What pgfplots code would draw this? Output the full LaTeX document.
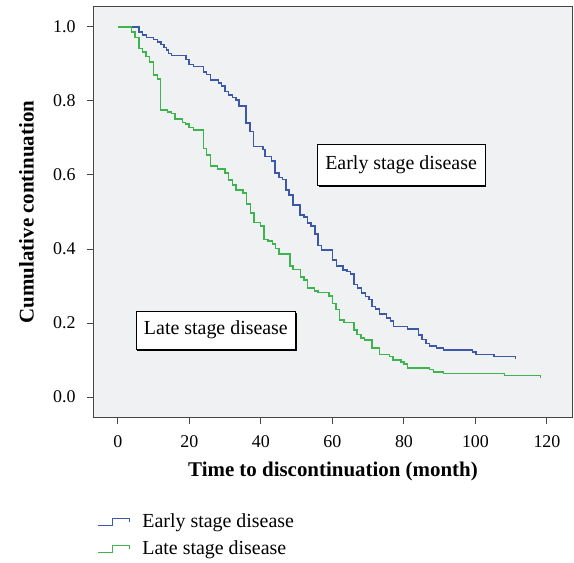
\documentclass[border=0pt]{standalone}
\usepackage{pgfplots}
\pgfplotsset{compat=1.18}
\usepackage{pgfplotstable}
\usepackage{fontspec}
\setmainfont{Liberation Serif}
\usetikzlibrary{shadows}
\definecolor{kmblue}{RGB}{60,88,168}
\definecolor{kmgreen}{RGB}{62,180,78}
\definecolor{plotbg}{RGB}{240,241,243}
\definecolor{axgray}{RGB}{70,70,70}

\pgfplotstableread{
x y
0 1.000
5.9 0.987
6.9 0.978
8.0 0.972
9.9 0.966
11.0 0.959
12.0 0.953
12.9 0.945
13.6 0.938
14.1 0.929
15.0 0.923
19.0 0.912
19.9 0.899
21.1 0.893
23.9 0.878
24.8 0.872
25.9 0.857
28.1 0.848
29.0 0.841
29.9 0.825
30.9 0.816
32.1 0.810
33.0 0.803
33.9 0.786
35.8 0.740
36.9 0.717
37.9 0.677
40.6 0.669
41.1 0.650
43.0 0.638
43.9 0.606
45.0 0.593
46.0 0.588
47.0 0.559
47.9 0.546
48.9 0.519
50.9 0.492
52.0 0.487
53.0 0.470
54.0 0.462
55.1 0.440
56.0 0.409
57.0 0.397
60.0 0.370
61.1 0.354
63.0 0.343
64.1 0.339
65.0 0.333
66.0 0.304
67.0 0.294
68.1 0.281
69.2 0.272
70.2 0.264
71.0 0.245
72.1 0.238
73.1 0.224
75.1 0.213
76.2 0.206
77.1 0.190
81.0 0.184
84.1 0.168
85.1 0.155
86.1 0.145
87.2 0.138
89.1 0.132
91.0 0.127
99.1 0.121
100.1 0.115
105.2 0.109
111.2 0.109
111.2 0.103
}\early

\pgfplotstableread{
x y
0 1.000
3.8 0.987
4.8 0.972
5.9 0.942
6.9 0.933
7.8 0.920
8.8 0.905
9.9 0.870
11.0 0.859
11.9 0.776
13.9 0.770
15.0 0.766
15.9 0.751
18.0 0.742
18.9 0.738
19.9 0.728
21.1 0.722
23.9 0.672
24.8 0.654
25.9 0.624
27.9 0.616
29.9 0.605
30.9 0.586
32.1 0.573
33.0 0.559
35.0 0.552
36.0 0.522
37.1 0.497
38.0 0.471
39.9 0.462
40.9 0.426
42.0 0.422
43.2 0.414
44.1 0.402
45.0 0.386
48.1 0.354
49.0 0.345
51.1 0.325
52.1 0.316
53.0 0.294
55.0 0.287
56.0 0.283
59.0 0.273
60.0 0.253
61.0 0.236
62.0 0.208
63.2 0.202
66.0 0.181
66.9 0.169
68.0 0.159
68.9 0.154
71.0 0.132
73.1 0.115
76.0 0.109
77.0 0.100
79.1 0.094
80.0 0.089
81.0 0.079
87.1 0.074
88.2 0.068
91.0 0.064
108.1 0.058
118.2 0.058
118.2 0.052
}\late

\begin{document}
\begin{tikzpicture}
\useasboundingbox (-94bp,-146bp) rectangle (480bp,417bp);
\begin{axis}[
  at={(0,0)}, anchor=south west,
  scale only axis, width=478bp, height=410bp,
  xmin=-6.7, xmax=127, ymin=-0.054, ymax=1.054,
  axis background/.style={fill=plotbg},
  axis line style={draw=axgray, line width=1bp},
  xtick={0,20,...,120}, ytick={0,0.2,...,1.0},
  xtick pos=bottom, ytick pos=left, tick align=outside,
  major tick length=7bp,
  tick style={draw=axgray, line width=1bp},
  /pgf/number format/assume math mode=true,
  yticklabel style={/pgf/number format/fixed, /pgf/number format/fixed zerofill, /pgf/number format/precision=1, xshift=-8bp},
  xticklabel style={yshift=-8bp},
  ticklabel style={font=\fontsize{18}{20}\selectfont},
  xlabel={\textbf{Time to discontinuation (month)}},
  ylabel={\textbf{Cumulative continuation}},
  every axis x label/.style={at={(axis description cs:0.5,-0.1098)}, anchor=north, inner sep=0pt, font=\fontsize{21}{24}\selectfont},
  every axis y label/.style={at={(axis description cs:-0.1255,0.5)}, rotate=90, anchor=south, inner sep=0pt, font=\fontsize{21}{24}\selectfont},
  legend style={at={(axis description cs:0.0063,-0.229)}, anchor=north west, draw=none, fill=none, inner sep=0pt,
    font=\fontsize{20}{22}\selectfont, row sep=5bp,
    nodes={text height=14bp, text depth=4bp, inner sep=2bp},
    /tikz/every odd column/.append style={column sep=10bp}},
  legend cell align=left,
  legend image code/.code={\draw[#1, line width=1.2bp] (0bp,-3.5bp) -- (15bp,-3.5bp) -- (15bp,3.5bp) -- (32bp,3.5bp) -- (32bp,0bp);},
  clip=false,
]
\addplot[const plot, kmblue, line width=1.5bp] table[x=x,y=y] {\early};
\addlegendentry{Early stage disease}
\addplot[const plot, kmgreen, line width=1.5bp] table[x=x,y=y] {\late};
\addlegendentry{Late stage disease}
\node[draw=black, fill=white, line width=0.8bp, inner xsep=8bp, minimum height=41bp,
  drop shadow={shadow xshift=1.5bp, shadow yshift=-1.5bp, fill=black, opacity=1},
  font=\fontsize{20}{22}\selectfont] at (axis cs:79.2,0.627) {Early stage disease};
\node[draw=black, fill=white, line width=0.8bp, inner xsep=8bp, minimum height=38bp,
  drop shadow={shadow xshift=1.5bp, shadow yshift=-1.5bp, fill=black, opacity=1},
  font=\fontsize{20}{22}\selectfont] at (axis cs:27.4,0.181) {Late stage disease};
\end{axis}
\end{tikzpicture}
\end{document}
